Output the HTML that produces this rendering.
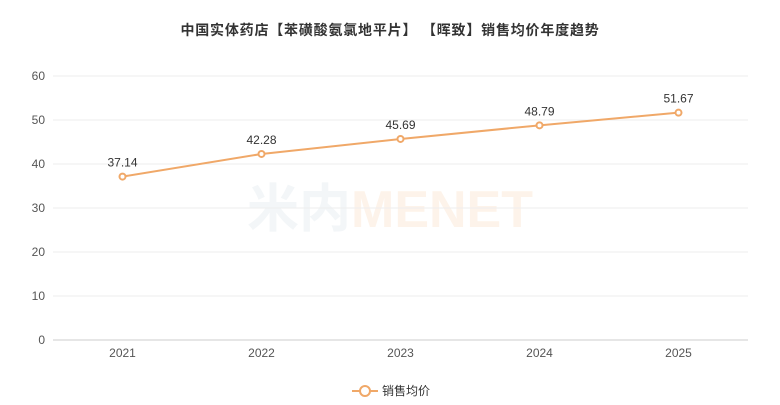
<!DOCTYPE html>
<html><head><meta charset="utf-8"><style>
body{margin:0;background:#fff;font-family:"Liberation Sans","Noto Sans CJK SC",sans-serif}
svg text{font-family:"Liberation Sans","Noto Sans CJK SC",sans-serif}
</style></head><body>
<svg id="chart" width="780" height="400" xmlns="http://www.w3.org/2000/svg">
<text x="390" y="35" text-anchor="middle" font-size="14" font-weight="bold" fill="#333" letter-spacing="0.8">中国实体药店【苯磺酸氨氯地平片】 【晖致】销售均价年度趋势</text>
<text x="390" y="227" text-anchor="middle" font-size="52" font-weight="bold" fill="#f3f6f8">米内<tspan fill="#fdf3ea">MENET</tspan></text>
<g id="grid"></g><g id="xaxis"></g><g id="series"></g>
<g>
<line x1="352" y1="391" x2="378" y2="391" stroke="#f0a868" stroke-width="2"/>
<circle cx="365" cy="391" r="5" fill="#fff" stroke="#f0a868" stroke-width="2"/>
<text x="382" y="395" font-size="12" fill="#333">销售均价</text>
</g>
</svg>
<script>
const categories=["2021","2022","2023","2024","2025"];
const values=[37.14,42.28,45.69,48.79,51.67];
const yTicks=[0,10,20,30,40,50,60];
const L=53,R=748,T=76,B=340,yMax=60;
const ns="http://www.w3.org/2000/svg";
const bw=(R-L)/categories.length;
const x=i=>L+bw*(i+0.5);
const y=v=>B-(v/yMax)*(B-T);
function mk(t,a,p){const e=document.createElementNS(ns,t);for(const k in a)e.setAttribute(k,a[k]);p.appendChild(e);return e;}
const g=document.getElementById('grid');
yTicks.forEach(v=>{
 const l=mk('line',{x1:L,x2:R,y1:y(v),y2:y(v),stroke:v===0?'#ccc':'#eee'},g);
 
 
 const t=mk('text',{x:45,y:y(v)+4,'text-anchor':'end','font-size':12,fill:'#555'},g);
 t.textContent=v;
 
 
});
const xa=document.getElementById('xaxis');
categories.forEach((c,i)=>{
 const t=mk('text',{x:x(i),y:357,'text-anchor':'middle','font-size':12,fill:'#555'},xa);
 t.textContent=c;
 
 
});
const s=document.getElementById('series');
const pl=mk('polyline',{points:values.map((v,i)=>x(i)+','+y(v)).join(' '),fill:'none',stroke:'#f0a868','stroke-width':2},s);


values.forEach((v,i)=>{
 const c=mk('circle',{cx:x(i),cy:y(v),r:3,fill:'#fff',stroke:'#f0a868','stroke-width':2},s);
 
 
 const t=mk('text',{x:x(i),y:y(v)-10,'text-anchor':'middle','font-size':12,fill:'#333'},s);
 t.textContent=v.toFixed(2);
 
 
});
</script>
</body></html>
